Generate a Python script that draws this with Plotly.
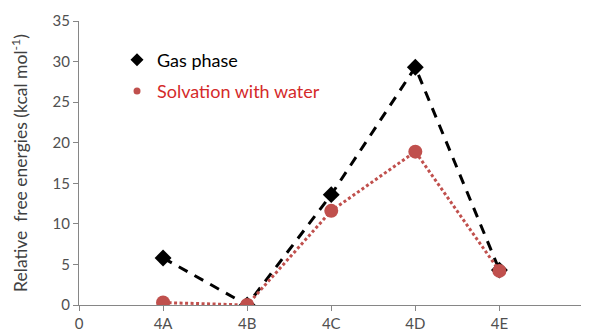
import plotly.graph_objects as go

categories = ["4A", "4B", "4C", "4D", "4E"]
x_pos = [1, 2, 3, 4, 5]
gas_phase = [5.8, 0.0, 13.6, 29.3, 4.3]
solvation = [0.3, 0.0, 11.6, 18.9, 4.2]
tick_vals = [0, 1, 2, 3, 4, 5]
tick_text = ["0"] + categories

FONT = "Lato, 'Open Sans', sans-serif"
RED = "#c0504d"
TICK_COLOR = "#505050"

fig = go.Figure()
fig.add_trace(go.Scatter(x=x_pos, y=gas_phase, mode="lines+markers",
                         line=dict(color="black", width=3, dash="10px,8px"),
                         marker=dict(symbol="diamond", size=13, color="black"),
                         showlegend=False))
fig.add_trace(go.Scatter(x=x_pos, y=solvation, mode="lines+markers",
                         line=dict(color=RED, width=3, dash="3px,2.5px"),
                         marker=dict(symbol="circle", size=14, color=RED),
                         showlegend=False))
# legend-only entries (marker only)
fig.add_trace(go.Scatter(x=[None], y=[None], mode="markers",
                         marker=dict(symbol="diamond", size=10, color="black"),
                         name="Gas phase", legendgroup="g1"))
fig.add_trace(go.Scatter(x=[None], y=[None], mode="markers",
                         marker=dict(symbol="circle", size=7, color=RED),
                         name='<span style="color:#d42a2a">Solvation with water</span>',
                         legendgroup="g2"))

# window has an 8px body margin; figure is offset by it
fig.update_layout(
    width=581, height=327,
    margin=dict(l=71, r=3, t=11, b=29),
    paper_bgcolor="white", plot_bgcolor="white",
    font=dict(family=FONT, size=15, color=TICK_COLOR),
    legend=dict(x=0.075, y=0.928, xanchor="left", yanchor="top",
                font=dict(family=FONT, size=18, color="black"),
                bgcolor="rgba(0,0,0,0)", itemwidth=30, tracegroupgap=5),
    xaxis=dict(range=[0, 6.03], tickvals=tick_vals, ticktext=tick_text,
               showline=True, linecolor="#868686", linewidth=1,
               ticks="outside", ticklen=5, tickcolor="#868686",
               showgrid=False, zeroline=False,
               tickfont=dict(family=FONT, size=15, color=TICK_COLOR)),
    yaxis=dict(range=[0, 35], tickvals=[0, 5, 10, 15, 20, 25, 30, 35],
               showline=True, linecolor="#868686", linewidth=1,
               ticks="outside", ticklen=5, tickcolor="#868686",
               showgrid=False, zeroline=False,
               tickfont=dict(family=FONT, size=15, color=TICK_COLOR),
               title=dict(text="Relative&nbsp; free energies (kcal mol<sup>-1</sup>)",
                          font=dict(family=FONT, size=17.5, color="#404040"),
                          standoff=28)),
)

fig.write_html("out.html")
